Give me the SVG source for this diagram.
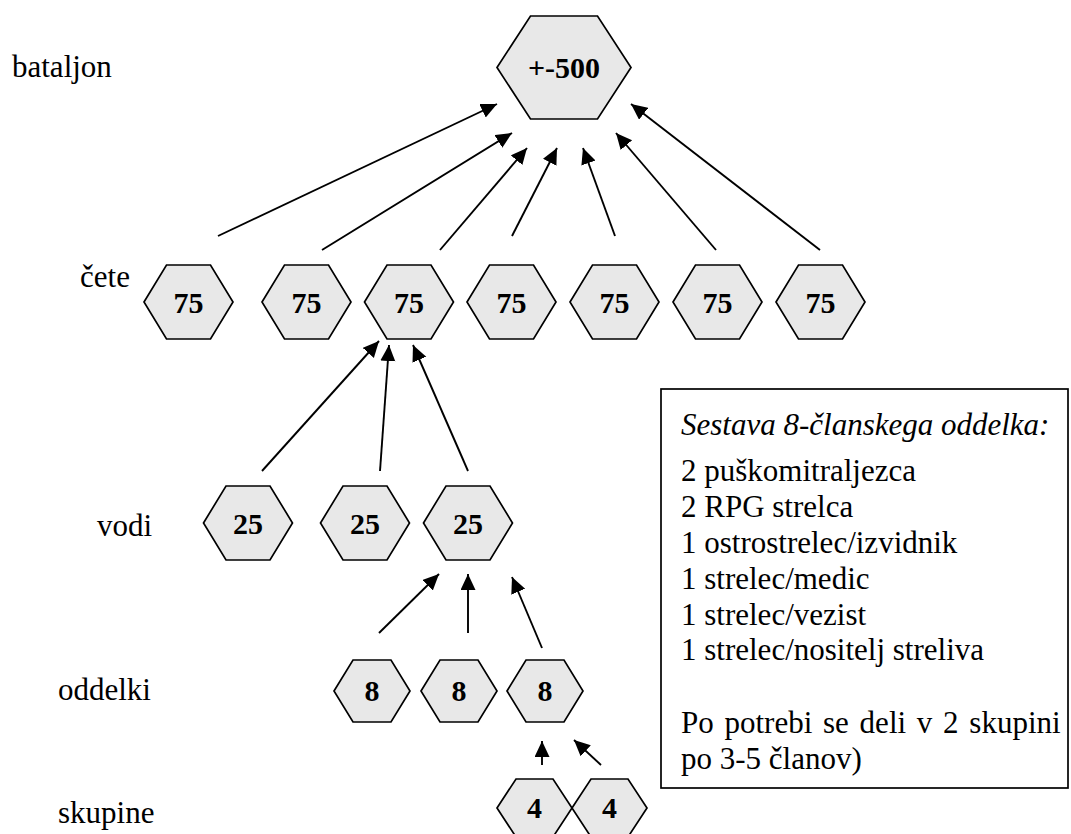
<svg xmlns="http://www.w3.org/2000/svg" width="1071" height="834" viewBox="0 0 1071 834">
<style>
.hex{fill:#e8e8e8;stroke:#000;stroke-width:1.7;stroke-linejoin:miter}
.num{font-weight:bold;font-size:30px;text-anchor:middle;fill:#000}
.lbl{font-size:31px;fill:#000}
.box{font-size:31px;fill:#000}
.arr{stroke:#000;stroke-width:1.9;fill:none;marker-end:url(#ah)}
</style>
<defs>
<marker id="ah" markerUnits="userSpaceOnUse" markerWidth="17" markerHeight="16" refX="16" refY="7.5" orient="auto" viewBox="0 0 17 16">
<path d="M0,0 L16,7.5 L0,15 z" fill="#000"/>
</marker>
</defs>
<rect width="1071" height="834" fill="#fff"/>
<g font-family="'Liberation Serif', 'Times New Roman', Tinos, 'DejaVu Serif', serif">

<g id="labels">
<text class="lbl" x="12" y="77">bataljon</text>
<text class="lbl" x="80" y="287">čete</text>
<text class="lbl" x="97" y="536">vodi</text>
<text class="lbl" x="58" y="700">oddelki</text>
<text class="lbl" x="58" y="823">skupine</text>
</g>

<g id="connectors">
<line class="arr" x1="218" y1="236" x2="497" y2="104"/>
<line class="arr" x1="322" y1="250" x2="512" y2="133"/>
<line class="arr" x1="440" y1="250" x2="527" y2="148"/>
<line class="arr" x1="512" y1="236" x2="557" y2="148"/>
<line class="arr" x1="615" y1="236" x2="583" y2="148"/>
<line class="arr" x1="716" y1="250" x2="616" y2="133"/>
<line class="arr" x1="820" y1="250" x2="631" y2="104"/>
<line class="arr" x1="262" y1="471" x2="379" y2="341"/>
<line class="arr" x1="380" y1="471" x2="389" y2="345"/>
<line class="arr" x1="468" y1="471" x2="413" y2="345"/>
<line class="arr" x1="379" y1="633" x2="439" y2="574"/>
<line class="arr" x1="468" y1="633" x2="468" y2="574"/>
<line class="arr" x1="542" y1="648" x2="512" y2="577"/>
<line class="arr" x1="542" y1="765" x2="542" y2="741"/>
<line class="arr" x1="601" y1="765" x2="574" y2="740"/>
</g>

<g id="bataljon" transform="translate(564,67.5)">
<polygon class="hex" points="-67,0 -33.5,-51.5 33.5,-51.5 67,0 33.5,51.5 -33.5,51.5"/>
<text class="num" x="0" y="10">+-500</text>
</g>

<g id="ceta1" transform="translate(188.5,302)"><polygon class="hex" points="-44.5,0 -22,-37 22,-37 44.5,0 22,37 -22,37"/><text class="num" x="0" y="11">75</text></g>
<g id="ceta2" transform="translate(306.5,302)"><polygon class="hex" points="-44.5,0 -22,-37 22,-37 44.5,0 22,37 -22,37"/><text class="num" x="0" y="11">75</text></g>
<g id="ceta3" transform="translate(409,302)"><polygon class="hex" points="-44.5,0 -22,-37 22,-37 44.5,0 22,37 -22,37"/><text class="num" x="0" y="11">75</text></g>
<g id="ceta4" transform="translate(511.5,302)"><polygon class="hex" points="-44.5,0 -22,-37 22,-37 44.5,0 22,37 -22,37"/><text class="num" x="0" y="11">75</text></g>
<g id="ceta5" transform="translate(614.5,302)"><polygon class="hex" points="-44.5,0 -22,-37 22,-37 44.5,0 22,37 -22,37"/><text class="num" x="0" y="11">75</text></g>
<g id="ceta6" transform="translate(717.5,302)"><polygon class="hex" points="-44.5,0 -22,-37 22,-37 44.5,0 22,37 -22,37"/><text class="num" x="0" y="11">75</text></g>
<g id="ceta7" transform="translate(820.5,302)"><polygon class="hex" points="-44.5,0 -22,-37 22,-37 44.5,0 22,37 -22,37"/><text class="num" x="0" y="11">75</text></g>

<g id="vod1" transform="translate(248,523)"><polygon class="hex" points="-44.5,0 -22,-37 22,-37 44.5,0 22,37 -22,37"/><text class="num" x="0" y="11">25</text></g>
<g id="vod2" transform="translate(365,523)"><polygon class="hex" points="-44.5,0 -22,-37 22,-37 44.5,0 22,37 -22,37"/><text class="num" x="0" y="11">25</text></g>
<g id="vod3" transform="translate(468,523)"><polygon class="hex" points="-44.5,0 -22,-37 22,-37 44.5,0 22,37 -22,37"/><text class="num" x="0" y="11">25</text></g>

<g id="oddelek1" transform="translate(372,691)"><polygon class="hex" points="-38,0 -19,-31 19,-31 38,0 19,31 -19,31"/><text class="num" x="0" y="10">8</text></g>
<g id="oddelek2" transform="translate(459,691)"><polygon class="hex" points="-38,0 -19,-31 19,-31 38,0 19,31 -19,31"/><text class="num" x="0" y="10">8</text></g>
<g id="oddelek3" transform="translate(545,691)"><polygon class="hex" points="-38,0 -19,-31 19,-31 38,0 19,31 -19,31"/><text class="num" x="0" y="10">8</text></g>

<g id="skupina1" transform="translate(534.5,808)"><polygon class="hex" points="-37.5,0 -18.5,-29 18.5,-29 37.5,0 18.5,29 -18.5,29"/><text class="num" x="0" y="10">4</text></g>
<g id="skupina2" transform="translate(609.5,808)"><polygon class="hex" points="-37.5,0 -18.5,-29 18.5,-29 37.5,0 18.5,29 -18.5,29"/><text class="num" x="0" y="10">4</text></g>

<g id="sestava">
<rect x="661" y="389" width="407" height="399" fill="#fff" stroke="#000" stroke-width="1.7"/>
<text class="box" x="681" y="435" font-style="italic">Sestava 8-članskega oddelka:</text>
<text class="box" x="681" y="481">2 puškomitraljezca</text>
<text class="box" x="681" y="517">2 RPG strelca</text>
<text class="box" x="681" y="553">1 ostrostrelec/izvidnik</text>
<text class="box" x="681" y="589">1 strelec/medic</text>
<text class="box" x="681" y="625">1 strelec/vezist</text>
<text class="box" x="681" y="660">1 strelec/nositelj streliva</text>
<text class="box" x="681" y="733" word-spacing="3">Po potrebi se deli v 2 skupini</text>
<text class="box" x="681" y="769">po 3-5 članov)</text>
</g>
</g>
</svg>
